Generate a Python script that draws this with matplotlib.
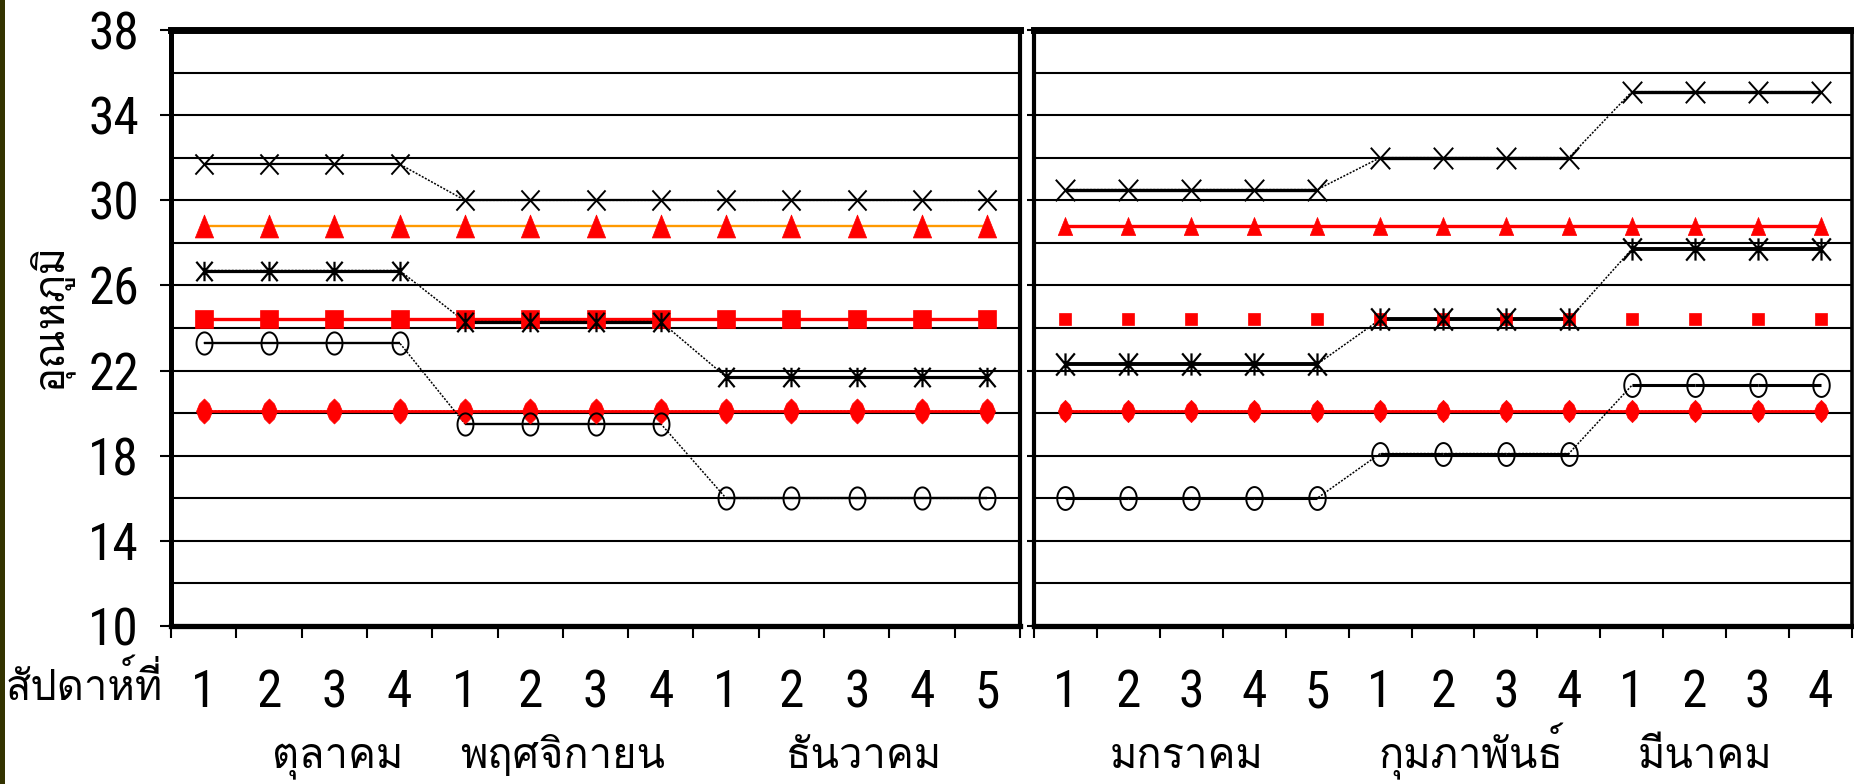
import numpy as np
import matplotlib
matplotlib.use("Agg")
import matplotlib.pyplot as plt
import matplotlib.transforms as mtransforms
from matplotlib import font_manager
from matplotlib.ft2font import FT2Font
from matplotlib.path import Path
from matplotlib.collections import LineCollection
from matplotlib.patches import Rectangle

# ---------------------------------------------------------------- data
weeks_left = ["1", "2", "3", "4", "1", "2", "3", "4", "1", "2", "3", "4", "5"]
weeks_right = ["1", "2", "3", "4", "5", "1", "2", "3", "4", "1", "2", "3", "4"]
months_left = ["ตุลาคม", "พฤศจิกายน", "ธันวาคม"]
months_right = ["มกราคม", "กุมภาพันธ์", "มีนาคม"]
y_label = "อุณหภูมิ"
week_caption = "สัปดาห์ที่"
y_ticks = [10, 14, 18, 22, 26, 30, 34, 38]
y_grid = [12, 16, 20, 24, 28, 32, 36]

# October - December
cross_left = [31.7, 31.7, 31.7, 31.7, 30.0, 30.0, 30.0, 30.0, 30.0, 30.0, 30.0, 30.0, 30.0]
triangle_left = [28.8, 28.8, 28.8, 28.8, 28.8, 28.8, 28.8, 28.8, 28.8, 28.8, 28.8, 28.8, 28.8]
star_left = [26.7, 26.7, 26.7, 26.7, 24.3, 24.3, 24.3, 24.3, 21.7, 21.7, 21.7, 21.7, 21.7]
square_left = [24.4, 24.4, 24.4, 24.4, 24.4, 24.4, 24.4, 24.4, 24.4, 24.4, 24.4, 24.4, 24.4]
circle_left = [23.3, 23.3, 23.3, 23.3, 19.5, 19.5, 19.5, 19.5, 16.0, 16.0, 16.0, 16.0, 16.0]
diamond_left = [20.1, 20.1, 20.1, 20.1, 20.1, 20.1, 20.1, 20.1, 20.1, 20.1, 20.1, 20.1, 20.1]

# January - March
cross_right = [30.5, 30.5, 30.5, 30.5, 30.5, 32.0, 32.0, 32.0, 32.0, 35.1, 35.1, 35.1, 35.1]
triangle_right = [28.8, 28.8, 28.8, 28.8, 28.8, 28.8, 28.8, 28.8, 28.8, 28.8, 28.8, 28.8, 28.8]
star_right = [22.3, 22.3, 22.3, 22.3, 22.3, 24.4, 24.4, 24.4, 24.4, 27.7, 27.7, 27.7, 27.7]
square_right = [24.4, 24.4, 24.4, 24.4, 24.4, 24.4, 24.4, 24.4, 24.4, 24.4, 24.4, 24.4, 24.4]
circle_right = [16.0, 16.0, 16.0, 16.0, 16.0, 18.1, 18.1, 18.1, 18.1, 21.3, 21.3, 21.3, 21.3]
diamond_right = [20.1, 20.1, 20.1, 20.1, 20.1, 20.1, 20.1, 20.1, 20.1, 20.1, 20.1, 20.1, 20.1]

# ---------------------------------------------------------------- fonts
def families_covering(ch):
    found, seen = [], set()
    for entry in font_manager.fontManager.ttflist:
        if entry.name in seen:
            continue
        try:
            cmap = FT2Font(entry.fname).get_charmap()
        except Exception:
            continue
        if ord(ch) in cmap:
            found.append(entry.name)
            seen.add(entry.name)
    return found


thai_found = families_covering("ก")
thai_pref = ["Tlwg Typo", "Loma", "Garuda", "Noto Sans Thai Looped", "Noto Sans Thai",
             "Sarabun", "Waree", "Umpush", "Norasi", "Kinnari"]
thai_family = next((f for f in thai_pref if f in thai_found),
                   thai_found[0] if thai_found else "DejaVu Sans")
installed = {e.name for e in font_manager.fontManager.ttflist}
digit_family = next((f for f in ["Liberation Sans Narrow", "Roboto Condensed", "Open Sans Condensed"]
                     if f in installed), "DejaVu Sans")
THAI = [thai_family, "DejaVu Sans"]
DIGITS = [digit_family, "DejaVu Sans"]

# ---------------------------------------------------------------- markers
def closed(pts):
    return Path(pts + [pts[0]], [Path.MOVETO] + [Path.LINETO] * (len(pts) - 1) + [Path.CLOSEPOLY])


def ellipse(rx, ry, n=48):
    t = np.linspace(0, 2 * np.pi, n, endpoint=False)
    return closed([(rx * np.cos(a), ry * np.sin(a)) for a in t])


CROSS = Path([(-0.45, -0.5), (0.45, 0.5), (-0.45, 0.5), (0.45, -0.5)],
             [Path.MOVETO, Path.LINETO, Path.MOVETO, Path.LINETO])
STAR = Path([(-0.42, -0.5), (0.42, 0.5), (-0.42, 0.5), (0.42, -0.5), (0, -0.5), (0, 0.5)],
            [Path.MOVETO, Path.LINETO, Path.MOVETO, Path.LINETO, Path.MOVETO, Path.LINETO])
TRIANGLE = closed([(0, 0.5), (0.4, -0.5), (-0.4, -0.5)])
DIAMOND = closed([(0, 0.5), (0.2, 0.3), (0.32, 0), (0.2, -0.3),
                  (0, -0.5), (-0.2, -0.3), (-0.32, 0), (-0.2, 0.3)])
OVAL = ellipse(0.36, 0.5)

RED = "#ff0000"
ORANGE = "#ff9900"
BLACK = "#000000"

# ---------------------------------------------------------------- figure
W, H = 1854, 784
fig = plt.figure(figsize=(W / 100, H / 100), dpi=100)
fig.patch.set_facecolor("white")
fig.patches.append(Rectangle((0, 0), 5 / W, 1, transform=fig.transFigure,
                             facecolor="#333300", edgecolor="none"))

top_px, bottom_px = 30, 626
axL = fig.add_axes([171 / W, (H - bottom_px) / H, (1020 - 171) / W, (bottom_px - top_px) / H])
axR = fig.add_axes([1034 / W, (H - bottom_px) / H, (1852 - 1034) / W, (bottom_px - top_px) / H])


def style_axes(ax, ytick_len, show_labels, spine_w):
    ax.set_xlim(0, 13)
    ax.set_ylim(10, 38)
    ax.set_axisbelow(True)
    ax.set_yticks(y_ticks)
    ax.set_yticks(y_grid, minor=True)
    if show_labels:
        ax.set_yticklabels([str(v) for v in y_ticks], family=DIGITS, fontsize=37)
    else:
        ax.set_yticklabels([])
    ax.set_xticks(range(14))
    ax.set_xticklabels([])
    ax.tick_params(axis="y", which="major", direction="out", length=ytick_len, width=1.5,
                   pad=15, color=BLACK)
    ax.tick_params(axis="y", which="minor", length=0)
    ax.tick_params(axis="x", which="major", direction="out", length=8.6, width=1.5, color=BLACK)
    ax.grid(True, axis="y", which="both", color=BLACK, lw=1.5)
    for side, w in spine_w.items():
        ax.spines[side].set_linewidth(w)
        ax.spines[side].set_color(BLACK)


style_axes(axL, 8, True, {"left": 3.6, "bottom": 3.8, "top": 5.0, "right": 3.0})
style_axes(axR, 5, False, {"left": 3.0, "bottom": 3.8, "top": 5.0, "right": 2.6})


def draw_series(ax, values, marker, ms, face, edge, mew, line_color=None, line_w=2.0):
    x = np.arange(len(values)) + 0.5
    y = np.asarray(values, dtype=float)
    if line_color is not None:
        ax.plot(x, y, color=line_color, lw=1.1, ls=(0, (1.3, 1.0)), zorder=3)
        segs = [[(x[i], y[i]), (x[i + 1], y[i + 1])]
                for i in range(len(y) - 1) if y[i] == y[i + 1]]
        ax.add_collection(LineCollection(segs, colors=line_color, linewidths=line_w, zorder=3))
    ax.plot(x, y, ls="none", marker=marker, ms=ms, mfc=face, mec=edge, mew=mew,
            zorder=4, clip_on=False)


# left panel
draw_series(axL, diamond_left, DIAMOND, 18, RED, RED, 0.5, RED, 2.0)
draw_series(axL, square_left, "s", 12.5, RED, RED, 0.5, RED, 2.4)
draw_series(axL, triangle_left, TRIANGLE, 16.5, RED, RED, 0.5, ORANGE, 1.7)
draw_series(axL, circle_left, OVAL, 16, "none", BLACK, 1.4, BLACK, 1.7)
draw_series(axL, star_left, STAR, 14, "none", BLACK, 1.6, BLACK, 2.3)
draw_series(axL, cross_left, CROSS, 14.5, "none", BLACK, 1.4, BLACK, 1.6)

# right panel
draw_series(axR, diamond_right, DIAMOND, 16, RED, RED, 0.5, RED, 2.0)
draw_series(axR, square_right, "s", 9, RED, RED, 0.5, None)
draw_series(axR, triangle_right, TRIANGLE, 13, RED, RED, 0.5, RED, 2.4)
draw_series(axR, circle_right, OVAL, 16.5, "none", BLACK, 1.4, BLACK, 2.2)
draw_series(axR, star_right, STAR, 16, "none", BLACK, 1.6, BLACK, 2.8)
draw_series(axR, cross_right, CROSS, 15.5, "none", BLACK, 1.4, BLACK, 2.4)

# ---------------------------------------------------------------- text
axes_h = bottom_px - top_px
week_base = (bottom_px - 707) / axes_h
month_base = (bottom_px - 768) / axes_h
month_x_left = [2.55, 6.0, 10.6]
month_x_right = [2.43, 6.95, 10.67]

for ax, weeks, months, mx in [(axL, weeks_left, months_left, month_x_left),
                              (axR, weeks_right, months_right, month_x_right)]:
    tr = mtransforms.blended_transform_factory(ax.transData, ax.transAxes)
    for i, w in enumerate(weeks):
        ax.text(i + 0.5, week_base, w, transform=tr, ha="center", va="baseline",
                family=DIGITS, fontsize=37, clip_on=False)
    for x, m in zip(mx, months):
        ax.text(x, month_base, m, transform=tr, ha="center", va="baseline",
                family=THAI, fontsize=30, clip_on=False)

fig.text(6 / W, 1 - 700 / H, week_caption, ha="left", va="baseline", family=THAI, fontsize=30)
fig.text(50 / W, 1 - 316 / H, y_label, rotation=90, ha="center", va="center",
         family=THAI, fontsize=30)

fig.savefig("out.png", dpi=100)
